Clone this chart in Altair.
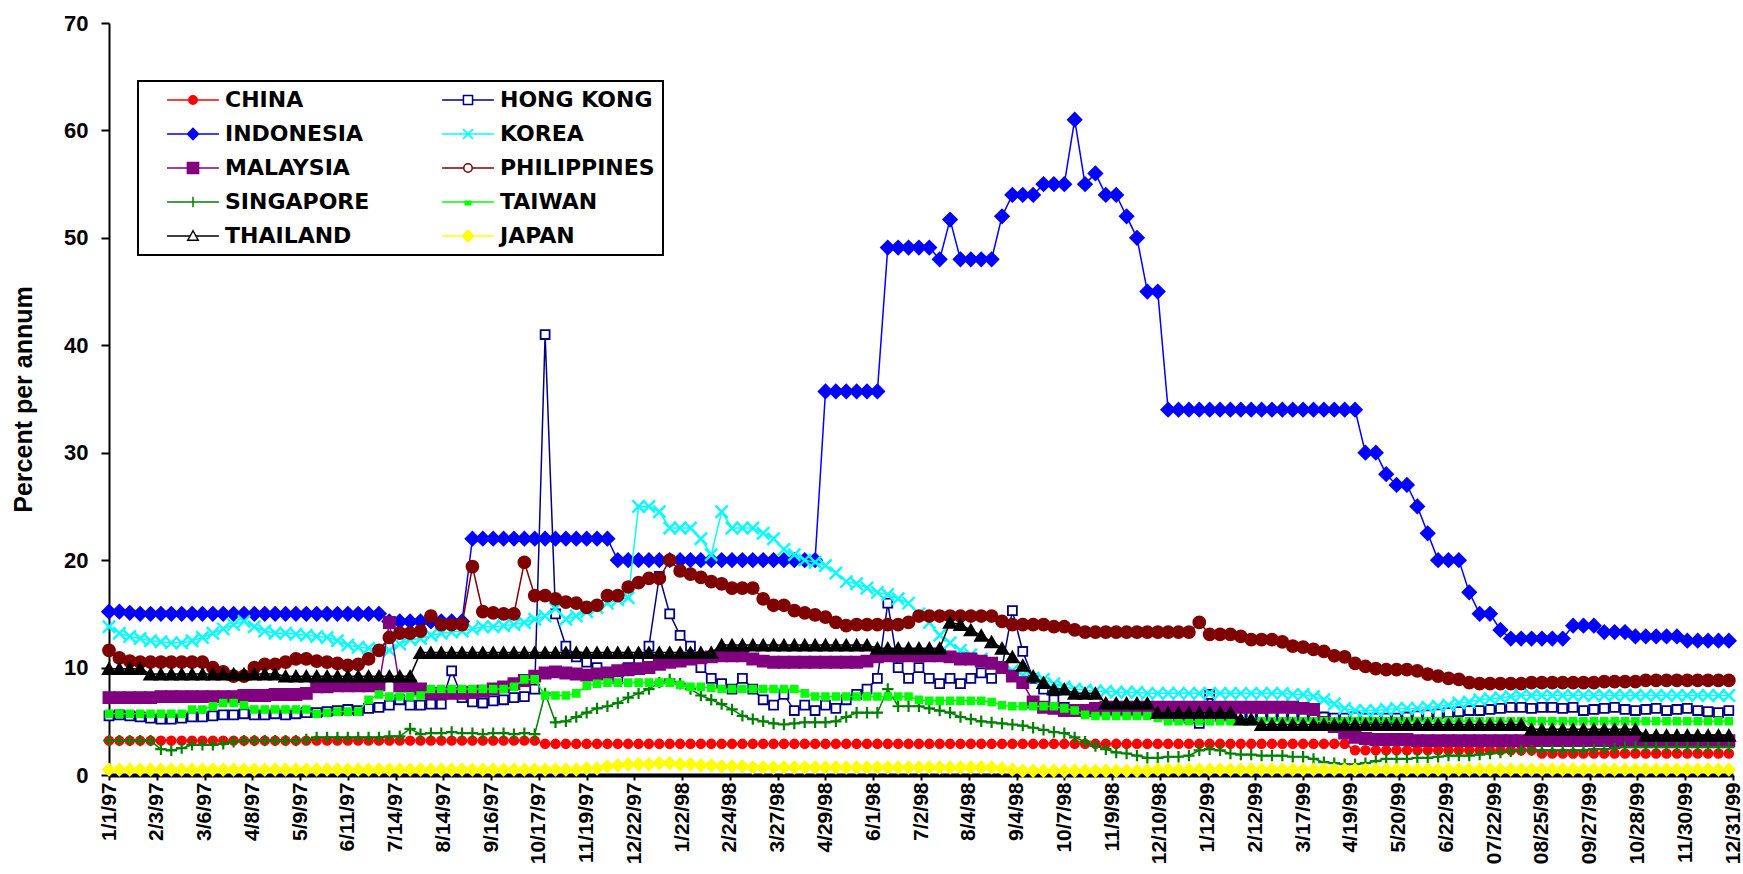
import json
import altair as alt
import pandas as pd

# Interest rates, per cent per annum; one reading every 5 business days from 1 Jan 1997
WEEK_DAYS = list(range(0, 785, 5))

TICK_LABELS = ["1/1/97", "2/3/97", "3/6/97", "4/8/97", "5/9/97", "6/11/97", "7/14/97",
               "8/14/97", "9/16/97", "10/17/97", "11/19/97", "12/22/97", "1/22/98", "2/24/98",
               "3/27/98", "4/29/98", "6/1/98", "7/2/98", "8/4/98", "9/4/98", "10/7/98",
               "11/9/98", "12/10/98", "1/12/99", "2/12/99", "3/17/99", "4/19/99", "5/20/99",
               "6/22/99", "07/22/99", "08/25/99", "09/27/99", "10/28/99", "11/30/99", "12/31/99"]
TICK_DAYS = [23 * k for k in range(len(TICK_LABELS))]

CHINA = [
    3.2, 3.2, 3.2, 3.2, 3.2, 3.2, 3.2, 3.2, 3.2, 3.2,
    3.2, 3.2, 3.2, 3.2, 3.2, 3.2, 3.2, 3.2, 3.2, 3.2,
    3.2, 3.2, 3.2, 3.2, 3.2, 3.2, 3.2, 3.2, 3.2, 3.2,
    3.2, 3.2, 3.2, 3.2, 3.2, 3.2, 3.2, 3.2, 3.2, 3.2,
    3.2, 3.2, 2.9, 2.9, 2.9, 2.9, 2.9, 2.9, 2.9, 2.9,
    2.9, 2.9, 2.9, 2.9, 2.9, 2.9, 2.9, 2.9, 2.9, 2.9,
    2.9, 2.9, 2.9, 2.9, 2.9, 2.9, 2.9, 2.9, 2.9, 2.9,
    2.9, 2.9, 2.9, 2.9, 2.9, 2.9, 2.9, 2.9, 2.9, 2.9,
    2.9, 2.9, 2.9, 2.9, 2.9, 2.9, 2.9, 2.9, 2.9, 2.9,
    2.9, 2.9, 2.9, 2.9, 2.9, 2.9, 2.9, 2.9, 2.9, 2.9,
    2.9, 2.9, 2.9, 2.9, 2.9, 2.9, 2.9, 2.9, 2.9, 2.9,
    2.9, 2.9, 2.9, 2.9, 2.9, 2.9, 2.9, 2.9, 2.9, 2.9,
    2.3, 2.3, 2.3, 2.3, 2.3, 2.3, 2.3, 2.3, 2.3, 2.3,
    2.3, 2.3, 2.3, 2.3, 2.3, 2.3, 2.3, 2.3, 2.0, 2.0,
    2.0, 2.0, 2.0, 2.0, 2.0, 2.0, 2.0, 2.0, 2.0, 2.0,
    2.0, 2.0, 2.0, 2.0, 2.0, 2.0, 2.0,
]

HONG_KONG = [
    5.5, 5.6, 5.5, 5.4, 5.3, 5.2, 5.2, 5.3, 5.4, 5.4,
    5.5, 5.6, 5.6, 5.7, 5.6, 5.6, 5.7, 5.6, 5.7, 5.8,
    5.8, 5.9, 6.0, 6.1, 6.0, 6.2, 6.3, 6.5, 7.0, 6.5,
    6.5, 6.6, 6.6, 9.7, 7.2, 6.8, 6.7, 6.9, 7.0, 7.2,
    7.3, 8.0, 41.0, 15.0, 12.0, 11.0, 10.5, 10.0, 9.5, 9.0,
    10.0, 10.5, 12.0, 18.5, 15.0, 13.0, 12.0, 10.0, 9.0, 8.5,
    8.0, 9.0, 8.0, 7.0, 6.5, 7.5, 6.0, 6.5, 6.0, 6.5,
    6.2, 7.0, 7.5, 8.0, 9.0, 16.0, 10.0, 9.0, 10.0, 9.0,
    8.5, 9.0, 8.5, 9.0, 9.5, 9.0, 10.0, 15.3, 11.5, 9.0,
    8.0, 7.0, 6.3, 6.0, 6.0, 6.0, 6.0, 6.0, 6.0, 6.0,
    6.0, 6.0, 5.8, 5.5, 5.3, 4.8, 7.5, 5.5, 5.5, 5.5,
    5.5, 5.4, 5.5, 5.5, 5.4, 5.5, 5.5, 5.4, 5.3, 5.3,
    5.4, 5.3, 5.3, 5.3, 5.3, 5.4, 5.5, 5.6, 5.7, 5.8,
    5.9, 6.0, 6.0, 6.1, 6.2, 6.3, 6.3, 6.2, 6.3, 6.3,
    6.2, 6.3, 6.0, 6.1, 6.2, 6.3, 6.1, 6.0, 6.1, 6.2,
    6.0, 6.1, 6.2, 6.0, 5.9, 5.8, 6.0,
]

INDONESIA = [
    15.2, 15.2, 15.1, 15.0, 15.0, 15.0, 15.0, 15.0, 15.0, 15.0,
    15.0, 15.0, 15.0, 15.0, 15.0, 15.0, 15.0, 15.0, 15.0, 15.0,
    15.0, 15.0, 15.0, 15.0, 15.0, 15.0, 15.0, 14.3, 14.3, 14.3,
    14.3, 14.3, 14.3, 14.3, 14.3, 22.0, 22.0, 22.0, 22.0, 22.0,
    22.0, 22.0, 22.0, 22.0, 22.0, 22.0, 22.0, 22.0, 22.0, 20.0,
    20.0, 20.0, 20.0, 20.0, 20.0, 20.0, 20.0, 20.0, 20.0, 20.0,
    20.0, 20.0, 20.0, 20.0, 20.0, 20.0, 20.0, 20.0, 20.0, 35.7,
    35.7, 35.7, 35.7, 35.7, 35.7, 49.1, 49.1, 49.1, 49.1, 49.1,
    48.0, 51.7, 48.0, 48.0, 48.0, 48.0, 52.0, 54.0, 54.0, 54.0,
    55.0, 55.0, 55.0, 61.0, 55.0, 56.0, 54.0, 54.0, 52.0, 50.0,
    45.0, 45.0, 34.0, 34.0, 34.0, 34.0, 34.0, 34.0, 34.0, 34.0,
    34.0, 34.0, 34.0, 34.0, 34.0, 34.0, 34.0, 34.0, 34.0, 34.0,
    34.0, 30.0, 30.0, 28.0, 27.0, 27.0, 25.0, 22.5, 20.0, 20.0,
    20.0, 17.0, 15.0, 15.0, 13.5, 12.7, 12.7, 12.7, 12.7, 12.7,
    12.7, 13.9, 13.9, 13.9, 13.3, 13.3, 13.3, 12.9, 12.9, 12.9,
    12.9, 12.9, 12.5, 12.5, 12.5, 12.5, 12.5,
]

KOREA = [
    13.8, 13.2, 12.9, 12.7, 12.5, 12.4, 12.3, 12.3, 12.5, 12.8,
    13.2, 13.6, 14.0, 14.3, 13.8, 13.4, 13.2, 13.2, 13.1, 13.0,
    12.9, 12.8, 12.5, 12.1, 11.9, 11.8, 11.7, 11.6, 12.2, 12.6,
    12.7, 13.0, 13.2, 13.3, 13.4, 13.6, 13.8, 13.8, 13.9, 14.0,
    14.2, 14.5, 14.8, 15.5, 14.5, 14.8, 15.2, 15.6, 16.0, 16.3,
    16.5, 25.0, 25.0, 24.5, 23.0, 23.0, 23.0, 22.0, 20.5, 24.5,
    23.0, 23.0, 23.0, 22.5, 22.0, 21.0, 20.5, 20.0, 19.8, 19.5,
    18.8, 18.0, 17.8, 17.4, 17.0, 16.8, 16.4, 16.0, 15.0, 14.2,
    13.0, 12.3, 11.6, 11.2, 10.8, 10.4, 10.0, 9.7, 9.3, 9.0,
    8.9, 8.5, 8.2, 8.0, 7.9, 7.8, 7.8, 7.7, 7.7, 7.7,
    7.6, 7.6, 7.6, 7.6, 7.6, 7.6, 7.6, 7.6, 7.6, 7.6,
    7.6, 7.6, 7.6, 7.6, 7.5, 7.5, 7.3, 7.0, 6.6, 6.2,
    6.0, 6.0, 6.0, 6.1, 6.2, 6.2, 6.2, 6.3, 6.4, 6.5,
    6.7, 6.8, 7.0, 7.1, 7.2, 7.3, 7.4, 7.4, 7.4, 7.4,
    7.4, 7.4, 7.4, 7.4, 7.4, 7.4, 7.4, 7.4, 7.4, 7.4,
    7.4, 7.4, 7.4, 7.4, 7.4, 7.4, 7.4,
]

MALAYSIA = [
    7.2, 7.2, 7.2, 7.2, 7.2, 7.3, 7.3, 7.3, 7.3, 7.3,
    7.3, 7.3, 7.3, 7.4, 7.4, 7.4, 7.5, 7.5, 7.5, 7.6,
    8.2, 8.2, 8.3, 8.3, 8.3, 8.3, 8.4, 14.2, 8.3, 8.3,
    8.0, 7.6, 7.6, 7.6, 7.6, 7.7, 7.8, 8.0, 8.2, 8.5,
    8.8, 9.2, 9.5, 9.6, 9.5, 9.4, 9.3, 9.4, 9.5, 9.7,
    9.8, 9.9, 10.0, 10.3, 10.5, 10.6, 10.8, 10.9, 11.0, 11.1,
    11.1, 11.1, 10.8, 10.6, 10.5, 10.5, 10.5, 10.5, 10.5, 10.5,
    10.5, 10.5, 10.5, 10.6, 11.0, 11.1, 11.1, 11.1, 11.1, 11.1,
    11.1, 11.0, 10.8, 10.8, 10.6, 10.4, 10.0, 9.2, 8.6, 6.8,
    6.3, 6.2, 6.0, 6.0, 6.0, 6.2, 6.3, 6.3, 6.3, 6.3,
    6.3, 6.3, 6.3, 6.3, 6.3, 6.3, 6.3, 6.3, 6.3, 6.3,
    6.3, 6.3, 6.3, 6.3, 6.3, 6.2, 6.1, 4.9, 4.5, 3.9,
    3.5, 3.4, 3.3, 3.3, 3.3, 3.3, 3.2, 3.2, 3.2, 3.2,
    3.2, 3.2, 3.2, 3.2, 3.2, 3.2, 3.2, 3.2, 3.2, 3.2,
    3.2, 3.2, 3.2, 3.2, 3.2, 3.2, 3.2, 3.2, 3.2, 3.2,
    3.2, 3.2, 3.2, 3.2, 3.2, 3.2, 3.2,
]

PHILIPPINES = [
    11.6, 10.9, 10.6, 10.5, 10.5, 10.5, 10.5, 10.5, 10.5, 10.5,
    10.0, 9.6, 9.2, 9.2, 10.0, 10.3, 10.3, 10.5, 10.8, 10.8,
    10.6, 10.5, 10.4, 10.2, 10.3, 10.8, 11.6, 12.8, 13.2, 13.2,
    13.4, 14.8, 14.0, 14.0, 14.0, 19.4, 15.2, 15.1, 15.0, 15.0,
    19.8, 16.7, 16.7, 16.4, 16.1, 16.0, 15.6, 15.8, 16.7, 16.7,
    17.5, 17.9, 18.3, 18.3, 20.0, 19.0, 18.7, 18.4, 18.0, 17.8,
    17.4, 17.4, 17.4, 16.4, 15.8, 15.8, 15.3, 15.1, 14.9, 14.7,
    14.2, 13.9, 14.0, 14.0, 14.0, 14.0, 14.0, 14.2, 14.8, 14.8,
    14.8, 14.8, 14.8, 14.8, 14.8, 14.8, 14.3, 14.0, 14.0, 14.0,
    14.0, 13.8, 13.8, 13.5, 13.3, 13.3, 13.3, 13.3, 13.3, 13.3,
    13.3, 13.3, 13.3, 13.3, 13.3, 14.2, 13.1, 13.1, 13.1, 12.9,
    12.6, 12.6, 12.6, 12.4, 12.0, 11.9, 11.7, 11.5, 11.1, 11.0,
    10.4, 10.1, 9.9, 9.8, 9.8, 9.8, 9.7, 9.4, 9.2, 9.0,
    8.9, 8.6, 8.5, 8.5, 8.5, 8.5, 8.5, 8.6, 8.6, 8.6,
    8.6, 8.6, 8.6, 8.6, 8.7, 8.7, 8.7, 8.7, 8.8, 8.8,
    8.8, 8.8, 8.8, 8.8, 8.8, 8.8, 8.8,
]

SINGAPORE = [
    3.2, 3.2, 3.2, 3.2, 3.2, 2.4, 2.3, 2.5, 2.8, 2.8,
    2.8, 2.9, 3.1, 3.2, 3.2, 3.2, 3.2, 3.2, 3.2, 3.3,
    3.5, 3.5, 3.5, 3.5, 3.5, 3.5, 3.5, 3.6, 3.6, 4.3,
    3.8, 3.9, 3.9, 4.0, 3.9, 3.9, 3.8, 3.9, 3.9, 3.8,
    3.9, 3.8, 7.6, 4.9, 5.0, 5.4, 5.8, 6.2, 6.4, 6.7,
    7.2, 7.6, 8.0, 8.6, 8.9, 8.5, 8.0, 7.4, 7.0, 6.6,
    6.1, 5.5, 5.2, 5.0, 4.8, 4.7, 4.8, 4.9, 4.9, 4.9,
    5.0, 5.4, 5.8, 5.8, 5.8, 8.0, 6.4, 6.4, 6.4, 6.2,
    6.0, 5.8, 5.4, 5.2, 5.0, 4.9, 4.8, 4.7, 4.6, 4.4,
    4.2, 4.0, 3.9, 3.5, 3.1, 2.7, 2.4, 2.1, 2.0, 1.8,
    1.6, 1.6, 1.7, 1.7, 1.8, 2.3, 2.4, 2.3, 2.0, 1.9,
    1.9, 1.8, 1.8, 1.8, 1.7, 1.7, 1.5, 1.2, 1.1, 1.0,
    1.0, 1.1, 1.3, 1.5, 1.5, 1.5, 1.6, 1.6, 1.7, 1.8,
    1.8, 1.8, 1.9, 2.0, 2.1, 2.2, 2.3, 2.3, 2.3, 2.3,
    2.3, 2.3, 2.3, 2.4, 2.4, 2.5, 2.6, 2.6, 2.6, 2.6,
    2.6, 2.6, 2.6, 2.6, 2.6, 2.6, 2.6,
]

TAIWAN = [
    5.7, 5.7, 5.7, 5.7, 5.7, 5.7, 5.7, 5.7, 6.1, 6.1,
    6.4, 6.7, 6.7, 6.5, 6.1, 6.1, 6.1, 6.1, 6.1, 6.1,
    5.7, 5.8, 5.9, 5.9, 5.9, 7.0, 7.5, 7.3, 7.3, 7.3,
    7.4, 8.0, 8.0, 8.0, 8.0, 8.0, 8.0, 8.0, 8.0, 8.2,
    8.9, 8.9, 7.4, 7.4, 7.4, 7.6, 8.3, 8.5, 8.6, 8.6,
    8.6, 8.6, 8.6, 8.6, 8.6, 8.4, 8.2, 8.2, 8.1, 8.0,
    8.0, 8.0, 8.0, 8.0, 8.0, 8.0, 8.0, 7.6, 7.3, 7.3,
    7.3, 7.3, 7.3, 7.3, 7.3, 7.3, 7.3, 7.3, 7.0, 6.9,
    6.9, 6.9, 6.9, 6.9, 6.9, 6.8, 6.5, 6.4, 6.4, 6.4,
    6.4, 6.4, 6.2, 6.0, 5.6, 5.5, 5.5, 5.5, 5.5, 5.5,
    5.5, 5.3, 5.0, 5.0, 5.0, 5.0, 5.0, 5.0, 5.0, 5.0,
    5.0, 5.0, 5.0, 5.0, 5.0, 5.0, 5.0, 5.0, 5.0, 5.0,
    5.0, 5.0, 5.0, 5.0, 5.0, 5.0, 5.0, 5.0, 5.0, 5.0,
    5.0, 5.0, 5.0, 5.0, 5.0, 5.0, 5.0, 5.0, 5.0, 5.0,
    5.0, 5.0, 5.0, 5.0, 5.0, 5.0, 5.0, 5.0, 5.0, 5.0,
    5.0, 5.0, 5.0, 5.0, 5.0, 5.0, 5.0,
]

THAILAND = [
    9.9, 9.9, 9.9, 9.9, 9.4, 9.4, 9.4, 9.4, 9.4, 9.4,
    9.4, 9.4, 9.4, 9.4, 9.4, 9.4, 9.4, 9.2, 9.2, 9.2,
    9.2, 9.2, 9.2, 9.2, 9.2, 9.2, 9.2, 9.2, 9.2, 9.2,
    11.4, 11.4, 11.4, 11.4, 11.4, 11.4, 11.4, 11.4, 11.4, 11.4,
    11.4, 11.4, 11.4, 11.4, 11.4, 11.4, 11.4, 11.4, 11.4, 11.4,
    11.4, 11.4, 11.4, 11.4, 11.4, 11.4, 11.4, 11.4, 11.4, 12.1,
    12.1, 12.1, 12.1, 12.1, 12.1, 12.1, 12.1, 12.1, 12.1, 12.1,
    12.1, 12.1, 12.1, 12.1, 11.8, 11.8, 11.8, 11.8, 11.8, 11.8,
    11.8, 14.2, 14.0, 13.5, 13.0, 12.4, 11.8, 11.0, 10.2, 9.2,
    8.6, 8.0, 8.0, 7.6, 7.6, 7.6, 6.7, 6.7, 6.7, 6.7,
    6.7, 5.8, 5.8, 5.8, 5.8, 5.8, 5.8, 5.8, 5.8, 5.2,
    5.2, 4.7, 4.7, 4.7, 4.7, 4.7, 4.7, 4.7, 4.7, 4.7,
    4.7, 4.7, 4.7, 4.7, 4.7, 4.7, 4.7, 4.7, 4.7, 4.7,
    4.7, 4.7, 4.7, 4.7, 4.7, 4.7, 4.7, 4.25, 4.25, 4.25,
    4.25, 4.25, 4.25, 4.25, 4.25, 4.25, 4.25, 4.25, 3.7, 3.7,
    3.7, 3.7, 3.7, 3.7, 3.7, 3.7, 3.7,
]

JAPAN = [
    0.5, 0.5, 0.5, 0.5, 0.5, 0.5, 0.5, 0.5, 0.5, 0.5,
    0.5, 0.5, 0.5, 0.5, 0.5, 0.5, 0.5, 0.5, 0.5, 0.5,
    0.5, 0.5, 0.5, 0.5, 0.5, 0.5, 0.5, 0.5, 0.5, 0.5,
    0.5, 0.5, 0.5, 0.5, 0.5, 0.5, 0.5, 0.5, 0.5, 0.5,
    0.5, 0.5, 0.5, 0.5, 0.5, 0.5, 0.6, 0.6, 0.8, 0.9,
    1.0, 1.0, 1.0, 1.1, 1.1, 1.0, 1.0, 0.9, 0.9, 0.8,
    0.8, 0.8, 0.7, 0.7, 0.7, 0.7, 0.7, 0.7, 0.7, 0.7,
    0.7, 0.7, 0.7, 0.7, 0.7, 0.7, 0.7, 0.7, 0.7, 0.7,
    0.7, 0.7, 0.7, 0.7, 0.7, 0.7, 0.6, 0.5, 0.4, 0.4,
    0.4, 0.4, 0.4, 0.4, 0.4, 0.4, 0.4, 0.4, 0.4, 0.4,
    0.4, 0.5, 0.5, 0.5, 0.5, 0.5, 0.5, 0.5, 0.5, 0.5,
    0.5, 0.5, 0.5, 0.5, 0.5, 0.5, 0.5, 0.5, 0.5, 0.5,
    0.5, 0.5, 0.5, 0.5, 0.5, 0.5, 0.5, 0.5, 0.5, 0.5,
    0.5, 0.5, 0.5, 0.5, 0.5, 0.5, 0.5, 0.5, 0.5, 0.5,
    0.5, 0.5, 0.5, 0.5, 0.5, 0.5, 0.5, 0.5, 0.5, 0.5,
    0.5, 0.5, 0.5, 0.5, 0.5, 0.5, 0.5,
]

SERIES = {
    "CHINA": CHINA, "HONG KONG": HONG_KONG, "INDONESIA": INDONESIA, "KOREA": KOREA,
    "MALAYSIA": MALAYSIA, "PHILIPPINES": PHILIPPINES, "SINGAPORE": SINGAPORE,
    "TAIWAN": TAIWAN, "THAILAND": THAILAND, "JAPAN": JAPAN,
}
COUNTRIES = list(SERIES)

rows = []
for name, values in SERIES.items():
    for day, rate in zip(WEEK_DAYS, values):
        rows.append({"country": name, "day": day, "rate": rate})
df = pd.DataFrame(rows)

# marker glyphs (unit square paths for the custom ones)
X_GLYPH = "M-1,-1L1,1M-1,1L1,-1"
PLUS_GLYPH = "M-1,0L1,0M0,-1L0,1"

STYLE = {
    "CHINA":       dict(color="#FF0000", shape="circle",      fill="#FF0000", size=80, sw=1.5),
    "HONG KONG":   dict(color="#000080", shape="square",      fill="#FFFFFF", size=80, sw=1.8),
    "INDONESIA":   dict(color="#0000FF", shape="diamond",     fill="#0000FF", size=200, sw=1.5),
    "KOREA":       dict(color="#00FFFF", shape=X_GLYPH,       fill="#00FFFF", size=150, sw=2.4),
    "MALAYSIA":    dict(color="#800080", shape="square",      fill="#800080", size=130, sw=1.5),
    "PHILIPPINES": dict(color="#800000", shape="circle",      fill="#800000", size=150, sw=1.5),
    "SINGAPORE":   dict(color="#008000", shape=PLUS_GLYPH,    fill="#008000", size=130, sw=2.2),
    "TAIWAN":      dict(color="#00FF00", shape="square",      fill="#00FF00", size=50, sw=1.5),
    "THAILAND":    dict(color="#000000", shape="triangle-up", fill="#000000", size=170, sw=1.5),
    "JAPAN":       dict(color="#FFFF00", shape="diamond",     fill="#FFFF00", size=150, sw=1.5),
}

# legend keys: a short line with the series glyph on it
LEGEND_KEYS = {
    "CHINA": "M-3.7,0L3.7,0M-0.6,0A0.6,0.6,0,1,0,0.6,0A0.6,0.6,0,1,0,-0.6,0Z",
    "HONG KONG": "M-3.7,0L-0.65,0M0.65,0L3.7,0M-0.65,-0.65L0.65,-0.65L0.65,0.65L-0.65,0.65Z",
    "INDONESIA": "M-3.7,0L3.7,0M0,-0.8L0.8,0L0,0.8L-0.8,0Z",
    "KOREA": "M-3.7,0L3.7,0M-0.7,-0.7L0.7,0.7M-0.7,0.7L0.7,-0.7",
    "MALAYSIA": "M-3.7,0L3.7,0M-0.8,-0.8L0.8,-0.8L0.8,0.8L-0.8,0.8Z",
    "PHILIPPINES": "M-3.7,0L-0.6,0M0.6,0L3.7,0M-0.6,0A0.6,0.6,0,1,0,0.6,0A0.6,0.6,0,1,0,-0.6,0Z",
    "SINGAPORE": "M-3.7,0L3.7,0M0,-0.75L0,0.75",
    "TAIWAN": "M-3.7,0L3.7,0M-0.4,-0.1L0.4,-0.1L0.4,0.4L-0.4,0.4Z",
    "THAILAND": "M-3.7,0L-0.42,0M0.42,0L3.7,0M0,-0.75L0.75,0.6L-0.75,0.6Z",
    "JAPAN": "M-3.7,0L3.7,0M0,-0.8L0.8,0L0,0.8L-0.8,0Z",
}
LEGEND_FILLS = {"HONG KONG": "#FFFFFF", "PHILIPPINES": "#FFFFFF", "THAILAND": "#FFFFFF"}

label_expr = json.dumps(TICK_LABELS) + "[round(datum.value / 23)]"

x_enc = alt.X(
    "day:Q",
    scale=alt.Scale(domain=[0, 782], nice=False, zero=False),
    axis=alt.Axis(
        values=TICK_DAYS, labelExpr=label_expr, labelAngle=270, title=None,
        labelFont="Liberation Sans", labelFontSize=21, labelFontWeight="bold",
        labelColor="black", labelPadding=2, labelOverlap=False, labelFlush=False,
        tickSize=5, tickWidth=2, tickColor="black",
        domainColor="black", domainWidth=4, grid=False,
    ),
)
y_enc = alt.Y(
    "rate:Q",
    scale=alt.Scale(domain=[0, 70], nice=False),
    axis=alt.Axis(
        values=[0, 10, 20, 30, 40, 50, 60, 70], title="Percent per annum",
        labelFont="Liberation Sans", labelFontSize=22, labelFontWeight="bold",
        labelColor="black", labelPadding=13, tickSize=8, tickWidth=2, tickColor="black",
        domainColor="black", domainWidth=2, grid=False,
        titleFont="Liberation Sans", titleFontSize=25, titleFontWeight="bold",
        titleColor="black", titleAngle=270, titleX=-86, titleY=376,
        titleAlign="center", titleBaseline="middle",
    ),
)

base = alt.Chart(df).encode(x=x_enc, y=y_enc)

layers = []
for name in COUNTRIES:
    st = STYLE[name]
    sub = base.transform_filter(alt.datum.country == name)
    layers.append(sub.mark_line(color=st["color"], strokeWidth=1.5))
    layers.append(sub.mark_point(shape=st["shape"], size=st["size"], fill=st["fill"],
                                 stroke=st["color"], strokeWidth=st["sw"], opacity=1))

legend = alt.Legend(
    orient="none", legendX=29, legendY=58, columns=2, direction="horizontal", title=None,
    padding=8, strokeColor="black", fillColor="white",
    symbolSize=196, symbolStrokeWidth=1.5, symbolOpacity=1, symbolOffset=36,
    labelFont="DejaVu Sans", labelFontSize=22, labelFontWeight="bold", labelColor="black",
    labelOffset=21, rowPadding=12, columnPadding=51,
)
legend_layer = base.transform_filter(alt.datum.day == 0).mark_point(opacity=0).encode(
    shape=alt.Shape("country:N", scale=alt.Scale(domain=COUNTRIES,
                    range=[LEGEND_KEYS[c] for c in COUNTRIES]), legend=legend),
    stroke=alt.Stroke("country:N", scale=alt.Scale(domain=COUNTRIES,
                      range=[STYLE[c]["color"] for c in COUNTRIES]), legend=legend),
    fill=alt.Fill("country:N", scale=alt.Scale(domain=COUNTRIES,
                  range=[LEGEND_FILLS.get(c, STYLE[c]["color"]) for c in COUNTRIES]), legend=legend),
)
layers.append(legend_layer)

chart = alt.layer(*layers).properties(
    width=1624, height=752,
    padding={"left": 109, "top": 23, "right": 10, "bottom": 99},
    autosize=alt.AutoSizeParams(type="none"),
    background="white",
).configure_view(stroke=None).configure_legend(strokeWidth=2)

chart.save("out.html", embed_options={"renderer": "svg", "actions": False})
